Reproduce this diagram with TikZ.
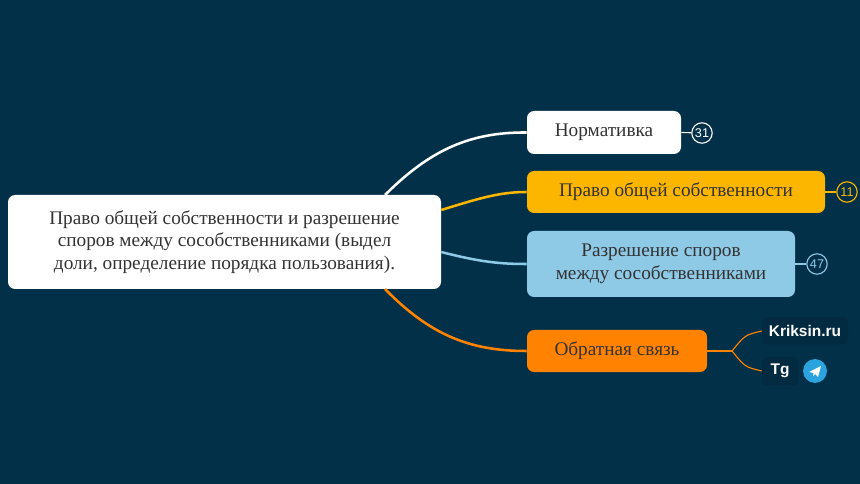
\documentclass[tikz,border=0pt]{standalone}
\usepackage{fontspec}
\setmainfont{Liberation Serif}
\newfontfamily\labelfont{Liberation Sans}
\usetikzlibrary{positioning,calc}
\definecolor{bgnavy}{HTML}{033049}
\definecolor{darkbox}{HTML}{022A40}
\definecolor{amber}{HTML}{FDB600}
\definecolor{skyblue}{HTML}{8EC9E6}
\definecolor{orangebr}{HTML}{FF8300}
\definecolor{tgblue}{HTML}{2AA3DF}
\begin{document}
\begin{tikzpicture}[x=0.025cm,y=-0.025cm,
    topic/.style={rectangle, rounded corners=5pt, text centered, align=center, font=\fontsize{13.7}{16}\selectfont, text=black!80},
    badge/.style={circle, draw, thick, inner sep=0pt, minimum size=14.5pt, font=\labelfont\fontsize{9}{9}\selectfont},
    branch/.style={line width=1.8pt},
    linkbox/.style={rectangle, rounded corners=3pt, fill=darkbox, text=white, font=\labelfont\bfseries\fontsize{11}{12}\selectfont}
]
    \fill[bgnavy] (0,0) rectangle (860,484);
    % Root
    \node[topic, fill=white, minimum width=433*0.025cm, minimum height=94*0.025cm] (root) at (224.5,242)
        {Право общей собственности и разрешение\\споров между сособственниками (выдел\\доли, определение порядка пользования).};
    % Topics
    \node[topic, fill=white, minimum width=154*0.025cm, minimum height=43*0.025cm] (norm) at (604,132.5) {Нормативка};
    \node[topic, fill=amber, minimum width=298*0.025cm, minimum height=42*0.025cm] (pravo) at (676,192) {Право общей собственности};
    \node[topic, fill=skyblue, minimum width=268*0.025cm, minimum height=66*0.025cm] (razr) at (661,264) {Разрешение споров\\между сособственниками};
    \node[topic, fill=orangebr, minimum width=180*0.025cm, minimum height=42*0.025cm] (obr) at (617,351) {Обратная связь};
    % Badges
    \node[badge, draw=white, text=white] (b31) at (702,133) {31};
    \node[badge, draw=amber, text=amber] (b11) at (847,192) {11};
    \node[badge, draw=skyblue, text=skyblue] (b47) at (817,264) {47};
    % Links
    \node[linkbox, minimum width=86*0.025cm, minimum height=27*0.025cm] (krik) at (805,331) {Kriksin.ru};
    \node[linkbox, minimum width=36*0.025cm, minimum height=28*0.025cm] (tg) at (780,371) {Tg};
    \node[circle, fill=tgblue, minimum size=17pt, inner sep=0pt] (tgicon) at (815,371) {};
    \fill[white] ($(tgicon)+(-6,1)$) -- ($(tgicon)+(6,-5)$) -- ($(tgicon)+(3,6)$) -- ($(tgicon)+(0,3)$) -- ($(tgicon)+(-2,5)$) -- ($(tgicon)+(-1.5,2)$) -- cycle;
    % Branches
    \draw[branch, white] (385,195) .. controls (430,150) and (470,132) .. (norm.west);
    \draw[branch, amber] (root.east |- 0,210) .. controls (480,198) and (500,192) .. (pravo.west);
    \draw[branch, skyblue] (root.east |- 0,252) .. controls (480,262) and (500,264) .. (razr.west);
    \draw[branch, orangebr] (385,289) .. controls (430,335) and (470,351) .. (obr.west);
    \draw[thick, white] (norm.east) -- (b31);
    \draw[thick, amber] (pravo.east) -- (b11);
    \draw[thick, skyblue] (razr.east) -- (b47);
    \draw[thick, orangebr] (obr.east) -- (732,351) coordinate (fork);
    \draw[thick, orangebr] (fork) .. controls (745,335) .. (krik.west);
    \draw[thick, orangebr] (fork) .. controls (745,367) .. (tg.west);
\end{tikzpicture}
\end{document}
